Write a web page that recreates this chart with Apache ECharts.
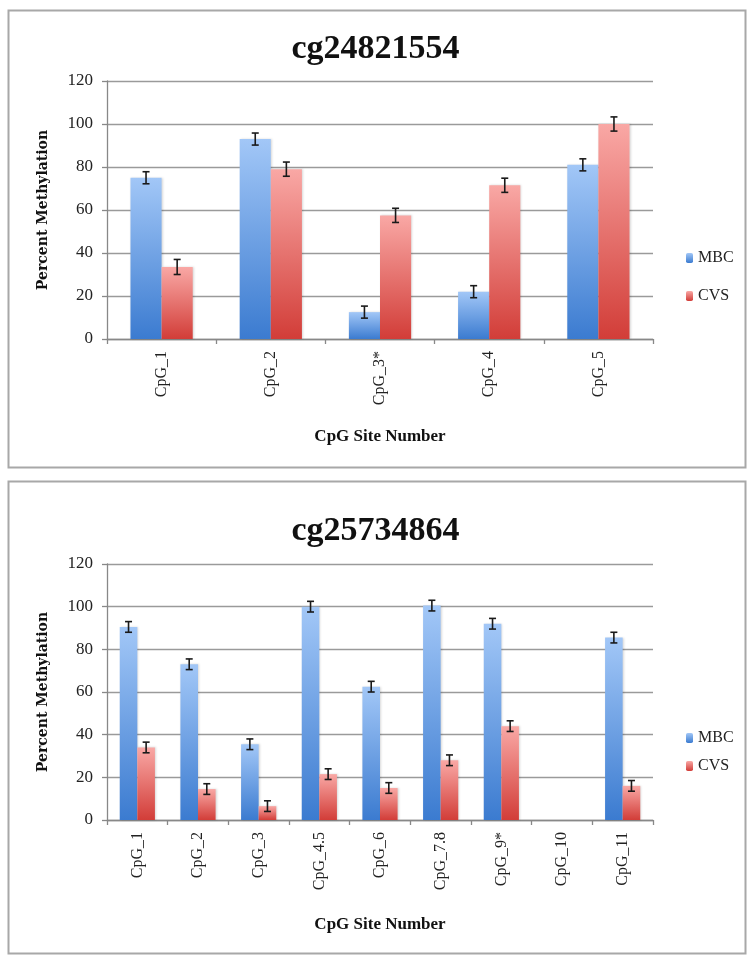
<!DOCTYPE html>
<html>
<head>
<meta charset="utf-8">
<script src="https://cdn.jsdelivr.net/npm/echarts@6/dist/echarts.min.js"></script>
<style>html,body{margin:0;padding:0;background:#fff;}#c{width:751px;height:963px;}</style>
</head>
<body>
<div id="c"></div>
<script>
// ---- Data ----
const topTitle = 'cg24821554';
const topCategories = ['CpG_1', 'CpG_2', 'CpG_3*', 'CpG_4', 'CpG_5'];
const topMBC = [75, 93, 12.5, 22, 81];
const topCVS = [33.5, 79, 57.5, 71.5, 100];
const topMBCErr = [2.8, 2.8, 2.8, 2.8, 2.8];
const topCVSErr = [3.5, 3.3, 3.3, 3.3, 3.3];

const botTitle = 'cg25734864';
const botCategories = ['CpG_1', 'CpG_2', 'CpG_3', 'CpG_4.5', 'CpG_6', 'CpG_7.8', 'CpG_9*', 'CpG_10', 'CpG_11'];
const botMBC = [90.5, 73, 35.5, 100, 62.5, 100.5, 92, null, 85.5];
const botCVS = [34, 14.5, 6.5, 21.5, 15, 28, 44, null, 16];
const botMBCErr = [2.5, 2.5, 2.5, 2.5, 2.5, 2.5, 2.5, null, 2.5];
const botCVSErr = [2.5, 2.5, 2.5, 2.5, 2.5, 2.5, 2.5, null, 2.5];

const yMin = 0, yMax = 120, yStep = 20;
const seriesNames = ['MBC', 'CVS'];

// ---- Styling ----
const serif = '"Liberation Serif", "DejaVu Serif", serif';
const blueGrad = new echarts.graphic.LinearGradient(0, 0, 0, 1, [
  { offset: 0, color: '#A2C7F7' }, { offset: 1, color: '#3B7BD0' }]);
const redGrad = new echarts.graphic.LinearGradient(0, 0, 0, 1, [
  { offset: 0, color: '#F9A8A5' }, { offset: 1, color: '#D23D38' }]);

function errRender(sign, gapFrac) {
  return function (params, api) {
    const x = api.value(0), v = api.value(1), e = api.value(2);
    if (v == null || isNaN(v) || e == null || isNaN(e)) return;
    const band = api.size([1, 0])[0];
    const bw = band * (1 - gapFrac) / 2;
    const cx = api.coord([x, v])[0] + sign * bw / 2;
    const yT = api.coord([x, v + e])[1];
    const yB = api.coord([x, v - e])[1];
    const cap = 3.5;
    const st = { stroke: '#1a1a1a', lineWidth: 1.6 };
    return {
      type: 'group', children: [
        { type: 'line', shape: { x1: cx, y1: yT, x2: cx, y2: yB }, style: st },
        { type: 'line', shape: { x1: cx - cap, y1: yT, x2: cx + cap, y2: yT }, style: st },
        { type: 'line', shape: { x1: cx - cap, y1: yB, x2: cx + cap, y2: yB }, style: st }
      ]
    };
  };
}
function errData(vals, errs) {
  return vals.map((v, i) => [i, v == null ? NaN : v, errs[i] == null ? NaN : errs[i]]);
}

function xAxisCfg(idx, cats, nameGap) {
  return {
    type: 'category', gridIndex: idx, data: cats,
    axisLine: { lineStyle: { color: '#888', width: 1.3 } },
    axisTick: { show: true, length: 5, lineStyle: { color: '#888', width: 1.3 } },
    axisLabel: { rotate: 90, margin: 12, fontFamily: serif, fontSize: 16, color: '#222' },
    name: 'CpG Site Number', nameLocation: 'middle', nameGap: nameGap,
    nameTextStyle: { fontFamily: serif, fontWeight: 'bold', fontSize: 17, color: '#111' }
  };
}
function yAxisCfg(idx) {
  return {
    type: 'value', gridIndex: idx, min: yMin, max: yMax, interval: yStep,
    axisLine: { show: true, lineStyle: { color: '#888', width: 1.3 } },
    axisTick: { show: true, length: 5, lineStyle: { color: '#888', width: 1.3 } },
    splitLine: { lineStyle: { color: '#9a9a9a', width: 1.3 } },
    axisLabel: { margin: 14, fontFamily: serif, fontSize: 17, color: '#222' },
    name: 'Percent Methylation', nameLocation: 'middle', nameRotate: 90, nameGap: 57,
    nameTextStyle: { fontFamily: '"DejaVu Serif", serif', fontWeight: 'bold', fontSize: 14, color: '#111' }
  };
}
function barSeries(name, idx, data, color, gap) {
  return {
    type: 'bar', name: name, xAxisIndex: idx, yAxisIndex: idx, data: data,
    barGap: '0%', barCategoryGap: gap,
    itemStyle: { color: color, shadowColor: 'rgba(0,0,0,0.15)', shadowBlur: 2, shadowOffsetX: 1 },
    emphasis: { disabled: true }
  };
}

const chart = echarts.init(document.getElementById('c'), null, { renderer: 'canvas' });
chart.setOption({
  backgroundColor: '#fff',
  animation: false,
  graphic: [
    { type: 'rect', shape: { x: 8.5, y: 10.5, width: 737, height: 457 }, style: { fill: 'none', stroke: '#a8a8a8', lineWidth: 2 }, z: -1 },
    { type: 'rect', shape: { x: 8.5, y: 481.5, width: 737, height: 472 }, style: { fill: 'none', stroke: '#a8a8a8', lineWidth: 2 }, z: -1 }
  ],
  title: [
    { text: topTitle, left: 'center', top: 27, textStyle: { fontFamily: serif, fontWeight: 'bold', fontSize: 34, color: '#111' } },
    { text: botTitle, left: 'center', top: 509, textStyle: { fontFamily: serif, fontWeight: 'bold', fontSize: 34, color: '#111' } }
  ],
  legend: [
    { orient: 'vertical', left: 681, top: 245, itemWidth: 7, itemHeight: 10, itemGap: 22, data: seriesNames,
      textStyle: { fontFamily: serif, fontSize: 16, color: '#222' } },
    { orient: 'vertical', left: 681, top: 725, itemWidth: 7, itemHeight: 10, itemGap: 12, data: seriesNames,
      textStyle: { fontFamily: serif, fontSize: 16, color: '#222' } }
  ],
  grid: [
    { left: 107, right: 98, top: 81, height: 258, containLabel: false },
    { left: 107, right: 98, top: 564, height: 256, containLabel: false }
  ],
  xAxis: [xAxisCfg(0, topCategories, 89), xAxisCfg(1, botCategories, 96)],
  yAxis: [yAxisCfg(0), yAxisCfg(1)],
  series: [
    barSeries('MBC', 0, topMBC, blueGrad, '43%'),
    barSeries('CVS', 0, topCVS, redGrad, '43%'),
    barSeries('MBC', 1, botMBC, blueGrad, '42%'),
    barSeries('CVS', 1, botCVS, redGrad, '42%'),
    { type: 'custom', xAxisIndex: 0, yAxisIndex: 0, renderItem: errRender(-1, 0.43), data: errData(topMBC, topMBCErr), z: 5, silent: true },
    { type: 'custom', xAxisIndex: 0, yAxisIndex: 0, renderItem: errRender(1, 0.43), data: errData(topCVS, topCVSErr), z: 5, silent: true },
    { type: 'custom', xAxisIndex: 1, yAxisIndex: 1, renderItem: errRender(-1, 0.42), data: errData(botMBC, botMBCErr), z: 5, silent: true },
    { type: 'custom', xAxisIndex: 1, yAxisIndex: 1, renderItem: errRender(1, 0.42), data: errData(botCVS, botCVSErr), z: 5, silent: true }
  ]
});
</script>
</body>
</html>
